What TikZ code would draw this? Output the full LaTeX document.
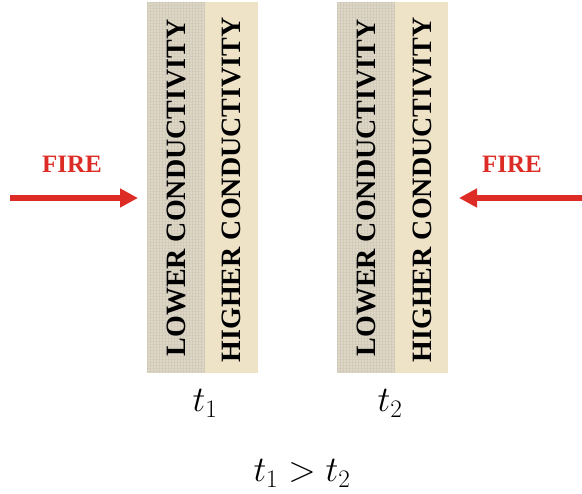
\RequirePackage{fix-cm}
\documentclass[tikz,border=0pt]{standalone}
\usepackage{fontspec}
\setmainfont{Liberation Serif}
\usetikzlibrary{arrows.meta}
\definecolor{lowcol}{RGB}{221,214,197}
\definecolor{highcol}{RGB}{238,226,199}
\definecolor{meshcol}{RGB}{160,155,140}
\definecolor{firecol}{RGB}{221,44,38}
\tikzset{
  lowstrip/.style={fill=lowcol, draw=none},
  highstrip/.style={fill=highcol, draw=none},
  striptext/.style={rotate=90, font=\bfseries\fontsize{28}{30}\selectfont, text=black, inner sep=0pt},
  firetext/.style={font=\bfseries\fontsize{25}{27}\selectfont, text=firecol, inner sep=0pt},
  firearrow/.style={draw=firecol, line width=6pt, -{Triangle[length=18pt,width=18pt]}},
  tlabel/.style={font=\fontsize{36}{38}\selectfont, inner sep=0pt, anchor=base}
}
\begin{document}
\begin{tikzpicture}[x=1pt,y=-1pt]
\useasboundingbox (0,0) rectangle (582,494);
% left panel
\path[lowstrip] (147,2) rectangle (205,373);
\path[highstrip] (205,2) rectangle (258,373);
% right panel
\path[lowstrip] (337,2) rectangle (395,373);
\path[highstrip] (395,2) rectangle (448,373);
% mesh texture on the lower-conductivity strips
\foreach \xo in {147,337}{
  \foreach \i in {0,3,...,57}{
    \draw[meshcol, opacity=0.15, line width=0.5pt] (\xo+\i,2) -- (\xo+\i,373);
  }
  \foreach \j in {2,5,...,372}{
    \draw[meshcol, opacity=0.10, line width=0.5pt] (\xo,\j) -- (\xo+58,\j);
  }
}
% texts
\node[striptext] (lowL) at (176,188) {LOWER CONDUCTIVITY};
\node[striptext] (highL) at (231,190) {HIGHER CONDUCTIVITY};
\node[striptext] (lowR) at (366,188) {LOWER CONDUCTIVITY};
\node[striptext] (highR) at (422,190) {HIGHER CONDUCTIVITY};
% fire
\node[firetext] (fireL) at (72,164) {FIRE};
\node[firetext] (fireR) at (512,164) {FIRE};
\coordinate (aLs) at (10,198);
\coordinate (aLe) at (138,198);
\coordinate (aRs) at (582,198);
\coordinate (aRe) at (459,198);
\draw[firearrow] (aLs) -- (aLe);
\draw[firearrow] (aRs) -- (aRe);
% time labels
\node[tlabel] (t1) at (205,412) {$t_1$};
\node[tlabel] (t2) at (390,412) {$t_2$};
\node[tlabel] (cmp) at (302,482) {$t_1 > t_2$};
\end{tikzpicture}
\end{document}
